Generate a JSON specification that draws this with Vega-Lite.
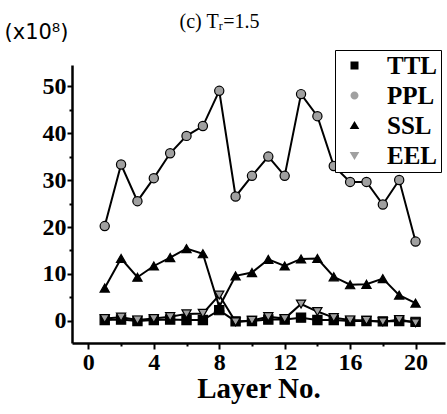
{
  "$schema": "https://vega.github.io/schema/vega-lite/v6.json",
  "width": 373,
  "height": 278,
  "autosize": "none",
  "padding": {"left": 72, "top": 65, "right": 2, "bottom": 71},
  "background": "white",
  "title": {
    "text": "(c) Tᵣ=1.5",
    "font": "Liberation Serif",
    "fontSize": 20,
    "fontWeight": "normal",
    "color": "black",
    "anchor": "middle",
    "dx": -39,
    "offset": 10,
    "dy": 21
  },
  "config": {
    "view": {"stroke": null},
    "axis": {
      "grid": false,
      "domainColor": "black",
      "domainWidth": 2.5,
      "tickColor": "black",
      "tickWidth": 2,
      "labelColor": "black",
      "labelFont": "Liberation Serif",
      "labelFontWeight": "bold",
      "labelFontSize": 24,
      "titleColor": "black"
    }
  },
  "data": {
    "values": [
      {"layer": 1, "series": "TTL", "value": 0.2},
      {"layer": 2, "series": "TTL", "value": 0.3},
      {"layer": 3, "series": "TTL", "value": 0.0},
      {"layer": 4, "series": "TTL", "value": 0.2},
      {"layer": 5, "series": "TTL", "value": 0.3},
      {"layer": 6, "series": "TTL", "value": 0.2},
      {"layer": 7, "series": "TTL", "value": 0.2},
      {"layer": 8, "series": "TTL", "value": 2.3},
      {"layer": 9, "series": "TTL", "value": -0.1},
      {"layer": 10, "series": "TTL", "value": 0.0},
      {"layer": 11, "series": "TTL", "value": 0.3},
      {"layer": 12, "series": "TTL", "value": 0.3},
      {"layer": 13, "series": "TTL", "value": 0.7},
      {"layer": 14, "series": "TTL", "value": 0.2},
      {"layer": 15, "series": "TTL", "value": 0.2},
      {"layer": 16, "series": "TTL", "value": 0.0},
      {"layer": 17, "series": "TTL", "value": 0.0},
      {"layer": 18, "series": "TTL", "value": -0.1},
      {"layer": 19, "series": "TTL", "value": 0.0},
      {"layer": 20, "series": "TTL", "value": -0.2},
      {"layer": 1, "series": "SSL", "value": 7.0},
      {"layer": 2, "series": "SSL", "value": 13.3},
      {"layer": 3, "series": "SSL", "value": 9.3},
      {"layer": 4, "series": "SSL", "value": 11.7},
      {"layer": 5, "series": "SSL", "value": 13.5},
      {"layer": 6, "series": "SSL", "value": 15.4},
      {"layer": 7, "series": "SSL", "value": 14.3},
      {"layer": 8, "series": "SSL", "value": 3.0},
      {"layer": 9, "series": "SSL", "value": 9.6},
      {"layer": 10, "series": "SSL", "value": 10.3},
      {"layer": 11, "series": "SSL", "value": 13.1},
      {"layer": 12, "series": "SSL", "value": 11.7},
      {"layer": 13, "series": "SSL", "value": 13.2},
      {"layer": 14, "series": "SSL", "value": 13.3},
      {"layer": 15, "series": "SSL", "value": 9.4},
      {"layer": 16, "series": "SSL", "value": 7.7},
      {"layer": 17, "series": "SSL", "value": 7.8},
      {"layer": 18, "series": "SSL", "value": 9.0},
      {"layer": 19, "series": "SSL", "value": 5.5},
      {"layer": 20, "series": "SSL", "value": 3.8},
      {"layer": 1, "series": "EEL", "value": 0.5},
      {"layer": 2, "series": "EEL", "value": 0.8},
      {"layer": 3, "series": "EEL", "value": 0.2},
      {"layer": 4, "series": "EEL", "value": 0.5},
      {"layer": 5, "series": "EEL", "value": 0.9},
      {"layer": 6, "series": "EEL", "value": 1.5},
      {"layer": 7, "series": "EEL", "value": 1.6},
      {"layer": 8, "series": "EEL", "value": 5.5},
      {"layer": 9, "series": "EEL", "value": -0.2},
      {"layer": 10, "series": "EEL", "value": 0.1},
      {"layer": 11, "series": "EEL", "value": 0.9},
      {"layer": 12, "series": "EEL", "value": 0.5},
      {"layer": 13, "series": "EEL", "value": 3.6},
      {"layer": 14, "series": "EEL", "value": 2.0},
      {"layer": 15, "series": "EEL", "value": 0.7},
      {"layer": 16, "series": "EEL", "value": 0.2},
      {"layer": 17, "series": "EEL", "value": 0.1},
      {"layer": 18, "series": "EEL", "value": -0.2},
      {"layer": 19, "series": "EEL", "value": 0.3},
      {"layer": 20, "series": "EEL", "value": -0.4},
      {"layer": 1, "series": "PPL", "value": 20.2},
      {"layer": 2, "series": "PPL", "value": 33.3},
      {"layer": 3, "series": "PPL", "value": 25.5},
      {"layer": 4, "series": "PPL", "value": 30.4},
      {"layer": 5, "series": "PPL", "value": 35.7},
      {"layer": 6, "series": "PPL", "value": 39.4},
      {"layer": 7, "series": "PPL", "value": 41.5},
      {"layer": 8, "series": "PPL", "value": 49.0},
      {"layer": 9, "series": "PPL", "value": 26.5},
      {"layer": 10, "series": "PPL", "value": 30.9},
      {"layer": 11, "series": "PPL", "value": 35.0},
      {"layer": 12, "series": "PPL", "value": 30.9},
      {"layer": 13, "series": "PPL", "value": 48.3},
      {"layer": 14, "series": "PPL", "value": 43.6},
      {"layer": 15, "series": "PPL", "value": 33.0},
      {"layer": 16, "series": "PPL", "value": 29.6},
      {"layer": 17, "series": "PPL", "value": 29.6},
      {"layer": 18, "series": "PPL", "value": 24.8},
      {"layer": 19, "series": "PPL", "value": 30.0},
      {"layer": 20, "series": "PPL", "value": 16.9}
    ]
  },
  "encoding": {
    "x": {
      "field": "layer",
      "type": "quantitative",
      "scale": {"domain": [-1, 21.8], "nice": false, "zero": false},
      "axis": {
        "values": [0, 2, 4, 6, 8, 10, 12, 14, 16, 18, 20],
        "labelExpr": "datum.value % 4 === 0 ? datum.label : ''",
        "tickSize": {"expr": "datum.value % 4 === 0 ? 6 : 3"},
        "labelPadding": 1,
        "title": "Layer No.",
        "titleFont": "Liberation Serif",
        "titleFontWeight": "bold",
        "titleFontSize": 29,
        "titlePadding": 0
      }
    },
    "y": {
      "field": "value",
      "type": "quantitative",
      "scale": {"domain": [-4.7, 54.5], "nice": false, "zero": false},
      "axis": {
        "values": [0, 5, 10, 15, 20, 25, 30, 35, 40, 45, 50],
        "labelExpr": "datum.value % 10 === 0 ? datum.label : ''",
        "tickSize": {"expr": "datum.value % 10 === 0 ? 5 : 3"},
        "labelPadding": 1,
        "title": "(x10⁸)",
        "titleFont": "DejaVu Sans",
        "titleFontWeight": "normal",
        "titleFontSize": 21,
        "titleAngle": 0,
        "titleAlign": "center",
        "titleBaseline": "middle",
        "titleX": -36,
        "titleY": -33
      }
    }
  },
  "resolve": {
    "scale": {"shape": "independent", "fill": "independent"},
    "legend": {"shape": "independent", "fill": "independent"}
  },
  "layer": [
    {
      "mark": {"type": "line", "color": "black", "strokeWidth": 2},
      "encoding": {"detail": {"field": "series"}}
    },
    {
      "mark": {"type": "point", "filled": true, "stroke": "black", "strokeWidth": 2, "size": 64, "opacity": 0},
      "encoding": {
        "shape": {
          "field": "series",
          "type": "nominal",
          "scale": {
            "domain": ["TTL", "PPL", "SSL", "EEL"],
            "range": [
              "M-4.1,0H-1M1,0H4.1M-1,-1H1V1H-1Z",
              "M-4.1,0H-1M1,0H4.1M-1,0A1,1 0 1,0 1,0A1,1 0 1,0 -1,0Z",
              "M-4.1,0.4H-1.1M1.1,0.4H4.1M0,-1.1L1.2,0.9H-1.2Z",
              "M-4.1,-0.4H-1.1M1.1,-0.4H4.1M0,1.1L1.2,-0.9H-1.2Z"
            ]
          },
          "legend": {
            "title": null,
            "orient": "none",
            "legendX": 263,
            "legendY": -15,
            "strokeColor": "black",
            "fillColor": "white",
            "padding": 3,
            "symbolOffset": 4,
            "labelOffset": 20,
            "rowPadding": 4,
            "symbolSize": 64,
            "symbolOpacity": 1,
            "symbolStrokeColor": "black",
            "symbolStrokeWidth": 2,
            "labelFont": "Liberation Serif",
            "labelFontWeight": "bold",
            "labelFontSize": 25,
            "labelColor": "black",
            "encode": {
              "symbols": {
                "stroke": {"value": "black"},
                "strokeWidth": {"value": 2}
              }
            }
          }
        },
        "fill": {
          "field": "series",
          "type": "nominal",
          "scale": {"domain": ["TTL", "PPL", "SSL", "EEL"], "range": ["black", "#a0a0a0", "black", "#a0a0a0"]}
        }
      }
    },
    {
      "mark": {"type": "point", "filled": true, "stroke": "black", "strokeWidth": 1.2, "size": 85, "opacity": 1},
      "encoding": {
        "shape": {
          "field": "series",
          "type": "nominal",
          "scale": {"domain": ["TTL", "PPL", "SSL", "EEL"], "range": ["square", "circle", "triangle-up", "triangle-down"]},
          "legend": null
        },
        "fill": {
          "field": "series",
          "type": "nominal",
          "scale": {"domain": ["TTL", "PPL", "SSL", "EEL"], "range": ["black", "#a0a0a0", "black", "#a0a0a0"]},
          "legend": null
        }
      }
    }
  ]
}
